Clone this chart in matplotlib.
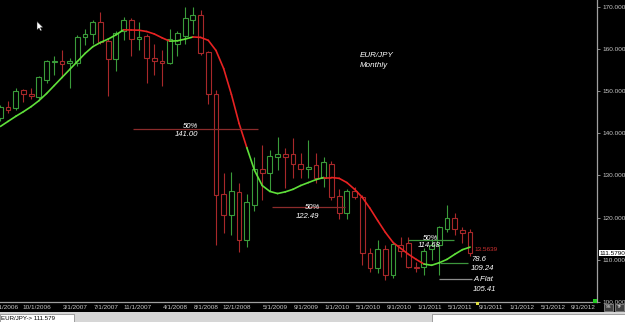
import matplotlib
matplotlib.use('Agg')
import matplotlib.pyplot as plt
from matplotlib.collections import LineCollection
from matplotlib.patches import Rectangle, Polygon

# ---------------- data ----------------
start_year, start_month = 2006, 6   # first candle: June 2006 (monthly bars)

opens = [143.5, 146.2, 145.9, 150.3, 149.4, 148.5, 152.5, 156.8, 157.0, 156.7,
         156.7, 162.9, 163.6, 166.4, 161.9, 157.5, 164.1, 166.9, 162.4, 163.1,
         157.7, 157.2, 156.7, 161.2, 163.1, 166.9, 167.9, 159.3, 149.4, 125.5,
         120.5, 126.0, 114.6, 122.9, 131.6, 130.5, 134.3, 135.0, 135.0, 132.8,
         131.4, 132.4, 129.5, 132.8, 125.0, 121.0, 126.2, 124.8, 111.5, 108.0,
         112.5, 106.3, 113.4, 113.9, 108.4, 108.2, 112.5, 113.4, 117.4, 120.0,
         117.0, 116.5]
highs = [146.6, 147.7, 150.6, 150.5, 150.6, 153.5, 157.3, 158.4, 159.6, 157.7,
         163.2, 164.6, 166.9, 168.6, 162.4, 164.3, 167.6, 167.4, 166.4, 163.6,
         161.2, 159.6, 164.6, 164.3, 169.8, 169.8, 169.1, 159.5, 150.3, 130.5,
         130.7, 128.3, 125.7, 134.3, 137.3, 136.1, 139.0, 136.6, 138.8, 135.2,
         138.3, 135.2, 134.3, 133.5, 126.7, 126.7, 127.2, 125.3, 112.7, 114.6,
         113.4, 114.1, 115.3, 115.3, 109.4, 112.7, 114.6, 118.0, 122.9, 121.0,
         117.7, 117.4]
lows = [143.0, 144.9, 145.4, 147.3, 148.2, 148.0, 151.8, 153.7, 153.4, 150.6,
        156.0, 160.8, 161.2, 161.2, 148.9, 154.8, 162.0, 158.4, 159.6, 151.8,
        153.9, 151.3, 156.5, 158.4, 161.2, 163.6, 158.5, 147.0, 113.4, 116.3,
        115.8, 111.8, 113.0, 121.5, 124.1, 126.4, 131.2, 126.9, 129.5, 129.3,
        129.5, 128.1, 127.2, 124.1, 119.6, 119.6, 124.5, 108.7, 107.0, 106.8,
        105.1, 105.6, 110.6, 108.0, 107.0, 106.3, 109.9, 106.3, 116.5, 115.8,
        113.9, 110.8]
closes = [146.1, 145.6, 150.1, 149.4, 148.7, 153.2, 157.0, 157.0, 156.5, 157.2,
          162.9, 163.6, 166.4, 161.7, 157.5, 163.8, 166.9, 162.4, 162.9, 157.7,
          157.2, 156.7, 162.4, 163.8, 167.2, 167.9, 158.9, 149.4, 125.3, 120.5,
          126.4, 114.8, 123.6, 131.4, 130.5, 134.5, 135.0, 134.3, 132.8, 131.4,
          132.1, 129.5, 133.1, 124.8, 121.0, 126.2, 124.8, 111.5, 108.0, 112.5,
          106.3, 113.7, 112.0, 108.2, 108.0, 112.2, 113.4, 117.7, 119.8, 117.2,
          116.3, 111.6]
ma = [141.6, 142.8, 144.0, 145.1, 146.3, 147.7, 149.4, 151.3, 153.2, 155.1,
      157.0, 158.9, 160.5, 161.5, 162.3, 163.3, 164.5, 164.45, 164.4, 164.1,
      163.5, 162.6, 161.8, 161.9, 162.3, 162.8, 162.7, 162.0, 159.6, 155.3,
      149.2, 142.3, 136.6, 131.2, 127.6, 126.2, 125.7, 126.1, 126.7, 127.6,
      128.3, 129.0, 129.5, 129.5, 129.3, 128.3, 126.7, 124.8, 122.2, 119.3,
      116.5, 114.1, 112.7, 111.3, 110.1, 109.0, 108.7, 109.3, 110.1, 111.3,
      112.4, 113.0]
ma_trend = (['up'] * 16 + ['down'] * 6 + ['up'] * 3 + ['down'] * 7 +
            ['up'] * 10 + ['down'] * 13 + ['up'] * 7)

tick_labels = ['6/1/2006', '10/1/2006', '3/1/2007', '7/1/2007', '11/1/2007',
               '4/1/2008', '8/1/2008', '12/1/2008', '5/1/2009', '9/1/2009',
               '1/1/2010', '5/1/2010', '9/1/2010', '1/1/2011', '5/1/2011',
               '9/1/2011', '1/1/2012', '5/1/2012', '9/1/2012']
y_ticks = [100, 110, 120, 130, 140, 150, 160, 170]

fib_values = [141.00, 122.49, 114.68, 109.24, 105.41]
fib_names = ['50%', '50%', '50%', '78.6', 'A Flat']
last_price = 111.579
ma_text = '13.5639'
title_lines = ['EUR/JPY', 'Monthly']

# ---------------- layout helpers ----------------
W, H = 625, 322
PXM = 7.7                      # pixels per month
AX_W, AX_H = 597, 302
X0 = -0.05
YTOP, YBOT = 171.56, 100.07


def px2x(px):
    return X0 + px / PXM


def py2p(py):
    return YTOP - py * (YTOP - YBOT) / AX_H


def label_index(lbl):
    m, d, y = [int(v) for v in lbl.split('/')]
    return (y - start_year) * 12 + (m - start_month)


narrow = ['Liberation Sans Narrow', 'Liberation Sans', 'DejaVu Sans']
sans = ['Liberation Sans', 'DejaVu Sans']

fig = plt.figure(figsize=(W / 100, H / 100), dpi=100, facecolor='black')
ax = fig.add_axes([0, (H - AX_H) / H, AX_W / W, AX_H / H])
ax.set_facecolor('black')
ax.set_xlim(X0, X0 + AX_W / PXM)
ax.set_ylim(YBOT, YTOP)

GREEN_C = '#3a9c3a'
RED_C = '#a8282a'
bw = 0.62
for i, (o, h, l, c) in enumerate(zip(opens, highs, lows, closes)):
    col = GREEN_C if c >= o else RED_C
    ax.vlines(i, l, h, color=col, lw=0.8, zorder=2)
    ax.bar(i, max(abs(c - o), 0.12), bottom=min(o, c), width=bw,
           facecolor='black', edgecolor=col, linewidth=0.8, zorder=3)

# moving average line
segs, cols = [], []
for i in range(len(ma) - 1):
    segs.append([(i, ma[i]), (i + 1, ma[i + 1])])
    cols.append('#5fe03a' if ma_trend[i] == 'up' else '#e82222')
ax.add_collection(LineCollection(segs, colors=cols, linewidths=1.2, zorder=4,
                                 capstyle='round'))

# fib / annotation lines
fib_spans = [(133, 258), (272, 345), (408, 454), (440, 468), (439, 472)]
fib_cols = ['#8b2b2b', '#8b2b2b', '#3c963c', '#3c963c', '#8c8c8c']
for v, (a, b), col in zip(fib_values, fib_spans, fib_cols):
    ax.hlines(v, px2x(a), px2x(b), color=col, lw=0.9, zorder=5)

it = dict(family=sans, style='italic', color='white', fontsize=5.6, zorder=6)
# (name pos, value pos): (px x, px y center, ha)
fib_text_pos = [((198, 127, 'right'), (198, 135, 'right')),
                ((320, 208, 'right'), (319, 216.5, 'right')),
                ((438, 239, 'right'), (441, 245.5, 'right')),
                ((471, 260, 'left'), (471, 269, 'left')),
                ((473, 280, 'left'), (473, 289.5, 'left'))]
for name, v, (p1, p2) in zip(fib_names, fib_values, fib_text_pos):
    ax.text(px2x(p1[0]), py2p(p1[1]), name, ha=p1[2], va='center', **it)
    ax.text(px2x(p2[0]), py2p(p2[1]), f'{v:.2f}', ha=p2[2], va='center', **it)

ax.text(px2x(360), py2p(56), title_lines[0], ha='left', va='center',
        family=sans, style='italic', color='white', fontsize=5.8)
ax.text(px2x(360), py2p(65.5), title_lines[1], ha='left', va='center',
        family=sans, style='italic', color='white', fontsize=5.8)

ax.text(px2x(474), py2p(250), ma_text, ha='left', va='center',
        family=sans, color='#d03030', fontsize=4.6, zorder=6)

# axes styling
for s in ['top', 'left']:
    ax.spines[s].set_visible(False)
for s in ['right', 'bottom']:
    ax.spines[s].set_color('#a0a0a0')
    ax.spines[s].set_linewidth(0.9)

ax.yaxis.tick_right()
ax.set_yticks(y_ticks)
ax.set_yticklabels([f'{v:.4f}' for v in y_ticks])
ax.tick_params(axis='y', colors='#a0a0a0', labelcolor='#c8c8c8', labelsize=4.6,
               length=2, width=0.6, pad=2)
ax.set_xticks([label_index(l) + 0.75 for l in tick_labels])
ax.set_xticklabels(tick_labels)
ax.tick_params(axis='x', length=0, labelcolor='#c8c8c8', labelsize=4.6, pad=2.2)
for lbl in ax.get_xticklabels() + ax.get_yticklabels():
    lbl.set_family(narrow)

ax.text(1.004, last_price, '111.5790', transform=ax.get_yaxis_transform(),
        ha='left', va='center', fontsize=4.6, family=narrow, color='black',
        bbox=dict(boxstyle='square,pad=0.12', fc='white', ec='none'),
        clip_on=False, zorder=7)

# status bar and decorations (figure pixel coordinates)
def fr(x, y, w, h, **kw):
    fig.patches.append(Rectangle((x / W, (H - y - h) / H), w / W, h / H,
                                 transform=fig.transFigure, **kw))

fr(0, 312, 625, 10, fc='#d6d6d6', ec='none')
fr(0, 314, 74, 8, fc='white', ec='#808080', lw=0.5)
fr(432, 314, 193, 8, fc='white', ec='#808080', lw=0.5)
fig.text(1.5 / W, (H - 318.5) / H, 'EUR/JPY-> 111.579', fontsize=4.4,
         family=narrow, color='black', va='center', ha='left')
fr(604, 304, 9, 7, fc='#404040', ec='#c0c0c0', lw=0.4)
fr(615, 304, 9, 7, fc='#404040', ec='#c0c0c0', lw=0.4)
fig.text(608.5 / W, (H - 307.5) / H, 'SS', fontsize=3, color='white',
         ha='center', va='center', family=narrow)
fig.text(619.5 / W, (H - 307.5) / H, 'TF', fontsize=3, color='white',
         ha='center', va='center', family=narrow)
fr(593, 299, 4, 4, fc='#22cc22', ec='none', zorder=10)
fr(476, 302, 3, 3, fc='#e0e040', ec='none', zorder=10)

cursor = [(37, 21.5), (37, 30), (39, 28), (40.5, 31), (41.8, 30.4),
          (40.4, 27.6), (43, 27.4)]
fig.patches.append(Polygon([(x / W, (H - y) / H) for x, y in cursor],
                           closed=True, transform=fig.transFigure,
                           fc='white', ec='#202020', lw=0.3, zorder=10))

fig.savefig('out.png', dpi=100, facecolor='black')
